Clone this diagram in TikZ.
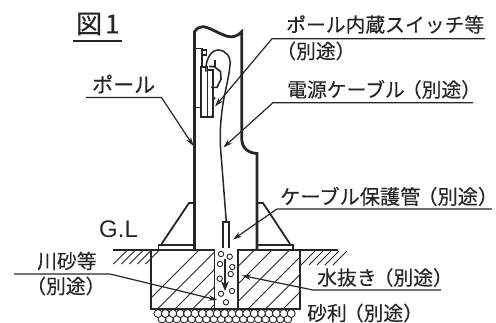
\documentclass[tikz,border=0pt]{standalone}
\usepackage{fontspec}
\setmainfont{Liberation Sans}
\newfontfamily\jp{Noto Sans CJK JP}[FakeBold=0.25]
\usetikzlibrary{arrows.meta}
\newcommand{\LP}{\kern-.15em（}
\newcommand{\RP}{）\kern-.42em}
\tikzset{
  x=1pt,y=-1pt,
  lbl/.style={anchor=west,inner sep=0pt,font=\jp\fontsize{19.8}{20}\selectfont,text=black!85},
  wall/.style={line width=2.8pt,black!85},
  thin wall/.style={line width=1.5pt,black!85},
  hatchline/.style={line width=.8pt,black!85},
  leader/.style={line width=1.2pt,black!85},
  leadarrow/.style={leader,-{Stealth[length=9pt,width=5.5pt]}},
  ball/.style={draw=black!85,line width=.9pt,circle,inner sep=0pt,minimum size=5.4pt},
}
\begin{document}
\begin{tikzpicture}
\useasboundingbox (0,0) rectangle (496,322);
% labels
\node[lbl,font=\jp\fontsize{26}{26}\selectfont] (fig) at (76,24) {図\kern 3pt 1};
\node[lbl,font=\jp\fontsize{21}{21}\selectfont] (pole) at (92,84) {ポール};
\node[lbl] (sw) at (286,24.5) {ポール内蔵スイッチ等};
\node[lbl] (swb) at (279,51) {\LP 別途\RP};
\node[lbl] (cab) at (287,89.5) {電源ケーブル\LP 別途\RP};
\node[lbl,font=\jp\fontsize{20.2}{21}\selectfont] (pipe) at (280,196.5) {ケーブル保護管\LP 別途\RP};
\node[lbl] (drain) at (317,277.5) {水抜き\LP 別途\RP};
\node[lbl] (grav) at (307,313) {砂利\LP 別途\RP};
\node[lbl] (sand) at (37,261) {川砂等};
\node[lbl] (sandb) at (29,286) {\LP 別途\RP};
\node[lbl,font=\fontsize{24}{24}\selectfont] (gl) at (99,229.5) {G.L};
% leader corners
\coordinate (figa) at (73,41); \coordinate (figb) at (122,41);
\coordinate (pa) at (86,97.5); \coordinate (pb) at (161.5,97.5); \coordinate (pt) at (193.5,146);
\coordinate (sa) at (485,38.7); \coordinate (sb) at (272,38.7); \coordinate (st) at (215,106.5);
\coordinate (ca) at (473,102.7); \coordinate (cb) at (273,102.7); \coordinate (ct) at (223.3,147.5);
\coordinate (ka) at (492,209); \coordinate (kb) at (277,209); \coordinate (kt) at (233,239.5);
\coordinate (da) at (441,290); \coordinate (db) at (313,290); \coordinate (dt) at (242,275.5);
\coordinate (ra) at (14,274); \coordinate (rb) at (110,274); \coordinate (rt) at (217.5,300);
% foundation hatching
\begin{scope}
\clip (151,250) rectangle (214,309);
\foreach \i in {0,...,7} \draw[hatchline] (140+17.5*\i,309) -- +(62,-62);
\end{scope}
\begin{scope}
\clip (238,250) rectangle (300,309);
\foreach \i in {0,...,7} \draw[hatchline] (178+17.5*\i,309) -- +(62,-62);
\end{scope}
% ground hatching
\foreach \i in {0,...,4} \draw[hatchline] (113.5+8*\i,264) -- +(13,-13);
\foreach \i in {0,...,4} \draw[hatchline] (301+8*\i,265) -- +(14,-14);
% gravel
\begin{scope}
\clip (150,309) rectangle (300,322);
\foreach \i in {0,...,17} \draw[line width=.9pt,black!85] (162+7.4*\i,319) circle (4);
\foreach \i in {0,...,18} \draw[line width=.9pt,black!85,fill=white] (158+7.4*\i,313.5) circle (4);
\end{scope}
% foundation
\draw[line width=1.9pt,black!85] (214.5,250) -- (113,250);
\draw[line width=1.9pt,black!85] (238,309) -- (238,250) -- (338,250);
\draw[line width=1.9pt,black!85] (151,250) -- (151,309) -- (300,309) -- (300,250);
\draw[line width=1.9pt,black!85] (214.5,249) -- (214.5,309);
% pole
\draw[wall] (194.5,250) -- (194.5,31.7) .. controls (197,28) and (200,26.5) .. (203,26.7)
  .. controls (209,27) and (218,33.5) .. (228,36.5) .. controls (233,37.5) and (238,36) .. (241.7,31.7)
  -- (241.7,138) .. controls (241.7,148) and (248,153) .. (257,153.5) -- (257,250);
% ribs & base
\draw[thin wall,line width=1.8pt] (194,203) -- (189,203) -- (161.5,244) ;
\draw[thin wall,line width=1.8pt] (258,203) -- (263,203) -- (290,244);
\draw[thin wall,line width=1.1pt] (194,245) -- (158.5,245) -- (158.5,249.5);
\draw[thin wall,line width=1.1pt] (258,245) -- (293,245) -- (293,249.5);
% switch
\draw[thin wall,line width=1.6pt] (196,48.3) -- (201.7,48.3) -- (201.7,66.7) (196,107.3) -- (201,107.3);
\draw[thin wall,line width=1.6pt] (200.7,66.7) rectangle (207.3,116.7);
\draw[thin wall,line width=1.6pt] (207.3,70) rectangle (213,116.7);
\draw[thin wall,line width=1.6pt] (201.7,50) rectangle (206.5,55);
\draw[thin wall,line width=1.6pt] (209,66.5) -- (214,66.5) -- (220.5,71.5) -- (221,79) -- (217,87.3) -- (211,87.3);
\draw[thin wall,line width=1.8pt] (215,60) -- (215,67);
\fill[black!85] (214.3,98.3) circle (1.4) (211.7,116.7) circle (1.4);
% cable
\draw[thin wall,line width=1.5pt] (206,71.7) .. controls (205,62) and (210,50) .. (218,50)
  .. controls (226,50) and (231,57) .. (230,65) .. controls (229,78) and (224,95) .. (222.5,107)
  .. controls (220,125) and (219.5,140) .. (221.5,160) -- (226.3,222);
% protection pipe
\draw[thin wall,line width=1.5pt] (223,248) -- (223,222) -- (229,222) -- (229,248);
% balls
\foreach \n/\p in {a/{221,254},b/{229.7,256.7},c/{220,264},d/{232.3,267},e/{230.7,274},f/{219.7,278.7},g/{232,291},h/{221,293.7},i/{226,302.3}}
  \node[ball] (b\n) at (\p) {};
% drain arrow
\coordinate (wa) at (225,259); \coordinate (wb) at (225,291);
\draw[line width=1.6pt,black!85,-{Stealth[length=10pt,width=8pt]}] (wa) -- (wb);
% leaders
\draw[line width=1.3pt,black!85] (figa) -- (figb);
\draw[leadarrow] (pa) -- (pb) -- (pt);
\draw[leadarrow] (sa) -- (sb) -- (st);
\draw[leadarrow] (ca) -- (cb) -- (ct);
\draw[leadarrow] (ka) -- (kb) -- (kt);
\draw[leadarrow] (da) -- (db) -- (dt);
\draw[leadarrow] (ra) -- (rb) -- (rt);
\end{tikzpicture}
\end{document}
